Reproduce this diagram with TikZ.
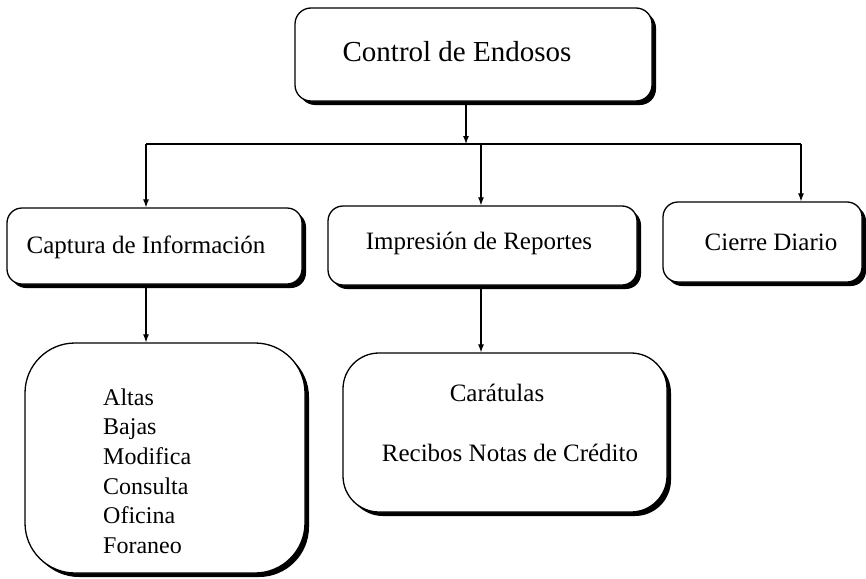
\documentclass[tikz,border=0pt]{standalone}
\usepackage{fontspec}
\setmainfont{Liberation Serif}
\usetikzlibrary{arrows.meta,shadows}
\begin{document}
\begin{tikzpicture}[x=1pt,y=-1pt,
  box/.style={draw=black, line width=1.3pt, fill=white,
    general shadow={fill=black, shadow xshift=4pt, shadow yshift=-4pt}, inner sep=0pt},
  lbl/.style={font=\fontsize{25}{30}\selectfont, inner sep=0pt},
  big/.style={font=\fontsize{29}{34}\selectfont, inner sep=0pt},
  lst/.style={font=\fontsize{24}{29.6}\selectfont, inner sep=0pt, align=left},
  conn/.style={line width=1.1pt},
  arr/.style={conn, -{Latex[length=8pt,width=6pt]}}]
\useasboundingbox (0,0) rectangle (866,578);

% boxes
\node[box, rounded corners=16pt, minimum width=357pt, minimum height=93pt] (top) at (473.5,54.5) {};
\node[big] (toptxt) at (457,52) {Control de Endosos};

\node[box, rounded corners=15pt, minimum width=295pt, minimum height=76pt] (cap) at (154.5,246) {};
\node[lbl] (captxt) at (146,247) {Captura de Información};

\node[box, rounded corners=15pt, minimum width=309pt, minimum height=79pt] (imp) at (482.5,245.5) {};
\node[lbl] (imptxt) at (479,243) {Impresión de Reportes};

\node[box, rounded corners=15pt, minimum width=199pt, minimum height=80pt] (cie) at (762.5,242) {};
\node[lbl] (cietxt) at (771,242) {Cierre Diario};

\node[box, rounded corners=50pt, minimum width=280pt, minimum height=230pt] (alt) at (165,458) {};
\node[lst, anchor=west] (alttxt) at (103,471) {Altas\\Bajas\\Modifica\\Consulta\\Oficina\\Foraneo};

\node[box, rounded corners=36pt, minimum width=324pt, minimum height=159pt] (car) at (505,432.5) {};
\node[lbl] (cartxt1) at (497,393) {Carátulas};
\node[lbl] (cartxt2) at (510,453) {Recibos Notas de Crédito};

% connectors
\coordinate (jc) at (466,144);
\coordinate (bl) at (146,144);
\coordinate (bm) at (481,144);
\coordinate (br) at (801,144);

\draw[conn] (bl) -- (br);
\draw[arr] (top.south -| jc) -- (jc);
\draw[arr] (bl) -- (bl |- cap.north);
\draw[arr] (bm) -- (bm |- imp.north);
\draw[arr] (br) -- (br |- cie.north);
\draw[arr] (cap.south -| bl) -- (bl |- alt.north);
\draw[arr] (imp.south -| bm) -- (bm |- car.north);
\end{tikzpicture}
\end{document}
